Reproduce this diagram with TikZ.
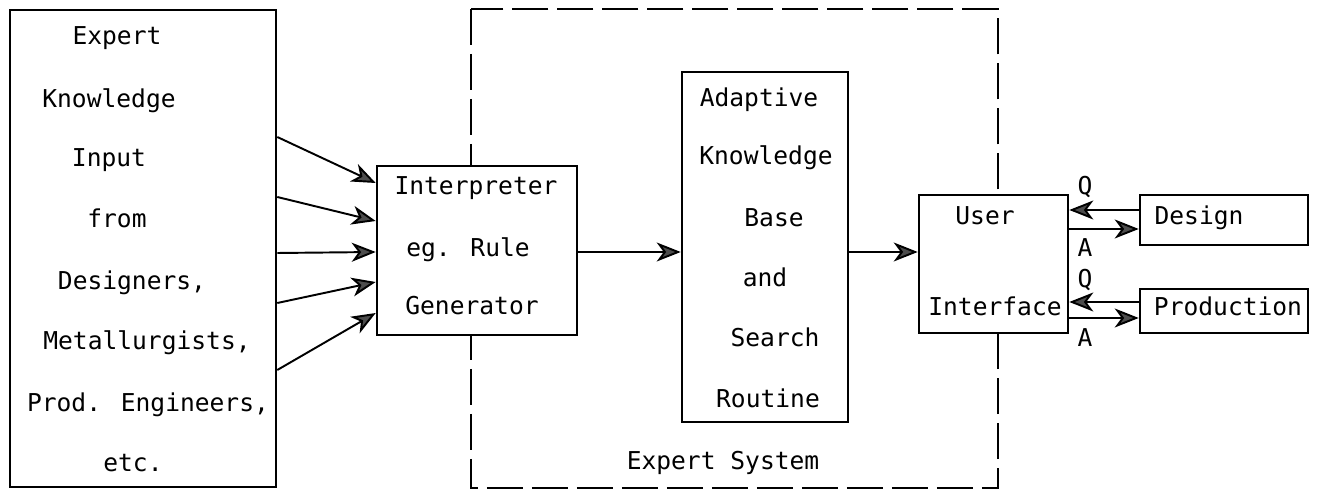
\documentclass[tikz,border=0pt]{standalone}
\usepackage{fontspec}
\newfontfamily\tw{DejaVu Sans Mono}
\usetikzlibrary{arrows.meta}
\begin{document}
\begin{tikzpicture}[x=0.02cm,y=-0.02cm,
  box/.style={draw, line width=1.5pt, fill=white, inner sep=0pt},
  txt/.style={font=\tw\fontsize{14}{16}\selectfont, anchor=base, inner sep=0pt},
  arr/.style={line width=1.1pt, -{Stealth[length=0.48cm,width=0.38cm,inset=0.14cm,fill=black!70]}},
  dashbox/.style={line width=1.4pt, dash pattern=on 0.72cm off 0.18cm}]
\useasboundingbox (0,0) rectangle (1317,492);
% dashed expert system frame
\draw[dashbox] (471,9) rectangle (998,488);
% boxes
\node[box, minimum width=5.32cm, minimum height=9.54cm] (kin) at (143,248.5) {};
\node[box, minimum width=4cm, minimum height=3.38cm] (interp) at (477,250.5) {};
\node[box, minimum width=3.32cm, minimum height=7cm] (kb) at (765,247) {};
\node[box, minimum width=2.98cm, minimum height=2.76cm] (ui) at (993.5,264) {};
\node[box, minimum width=3.36cm, minimum height=1cm] (design) at (1224,220) {};
\node[box, minimum width=3.36cm, minimum height=0.88cm] (prod) at (1224,311) {};
% texts left box
\node[txt] (t1) at (117,45) {Expert};
\node[txt] (t2) at (109,108) {Knowledge};
\node[txt] (t3) at (109,167) {Input};
\node[txt] (t4) at (117,228) {from};
\node[txt] (t5) at (132,290) {Designers,};
\node[txt] (t6) at (147,350) {Metallurgists,};
\node[txt] (t7) at (148,412) {Prod. Engineers,};
\node[txt] (t8) at (133,472) {etc.};
% interpreter
\node[txt] (i1) at (476,195) {Interpreter};
\node[txt] (i2) at (468,257) {eg. Rule};
\node[txt] (i3) at (472,315) {Generator};
% knowledge base
\node[txt] (k1) at (759,107) {Adaptive};
\node[txt] (k2) at (766,165) {Knowledge};
\node[txt] (k3) at (774,227) {Base};
\node[txt] (k4) at (765,287) {and};
\node[txt] (k5) at (775,347) {Search};
\node[txt] (k6) at (768,408) {Routine};
\node[txt] (es) at (723,470) {Expert System};
% user interface
\node[txt] (u1) at (985,225) {User};
\node[txt] (u2) at (995,316) {Interface};
\node[txt] (d1) at (1199,225) {Design};
\node[txt] (p1) at (1228,316) {Production};
% Q / A labels
\node[txt] (q1) at (1085,195) {Q};
\node[txt] (a1) at (1085,257) {A};
\node[txt] (q2) at (1085,288) {Q};
\node[txt] (a2) at (1085,347) {A};
% input arrows
\draw[arr] (kin.east |- 0,137) -- (interp.west |- 0,183);
\draw[arr] (kin.east |- 0,197) -- (interp.west |- 0,221);
\draw[arr] (kin.east |- 0,253) -- (interp.west |- 0,252);
\draw[arr] (kin.east |- 0,303) -- (interp.west |- 0,282);
\draw[arr] (kin.east |- 0,370) -- (interp.west |- 0,313);
% main flow
\draw[arr] (interp.east |- 0,252) -- (kb.west |- 0,252);
\draw[arr] (kb.east |- 0,252) -- (ui.west |- 0,252);
% Q/A arrows
\draw[arr] (design.west |- 0,210) -- (ui.east |- 0,210);
\draw[arr] (ui.east |- 0,229) -- (design.west |- 0,229);
\draw[arr] (prod.west |- 0,302) -- (ui.east |- 0,302);
\draw[arr] (ui.east |- 0,318) -- (prod.west |- 0,318);
\end{tikzpicture}
\end{document}
